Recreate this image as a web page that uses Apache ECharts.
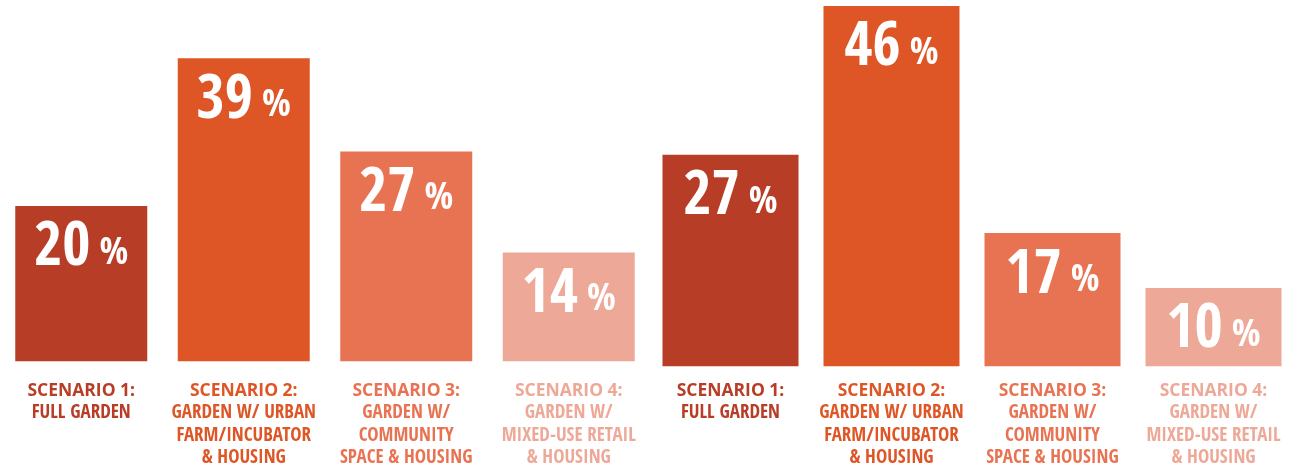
<!DOCTYPE html>
<html>
<head>
<meta charset="utf-8">
<script src="https://cdn.jsdelivr.net/npm/echarts@6/dist/echarts.min.js"></script>
<style>
  html, body { margin: 0; padding: 0; background: #fff; }
  #chart { width: 1298px; height: 468px; }
</style>
</head>
<body>
<div id="chart"></div>
<script>
var scenarioTitles = ['SCENARIO 1:', 'SCENARIO 2:', 'SCENARIO 3:', 'SCENARIO 4:'];
var scenarioNotes = [
  ['FULL GARDEN'],
  ['GARDEN W/ URBAN', 'FARM/INCUBATOR', '& HOUSING'],
  ['GARDEN W/', 'COMMUNITY', 'SPACE & HOUSING'],
  ['GARDEN W/', 'MIXED-USE RETAIL', '& HOUSING']
];
var leftValues = [20, 39, 27, 14];
var rightValues = [27, 46, 17, 10];
var barColors = ['#B83D26', '#DE5626', '#E87352', '#EEA897'];

var condensed = "'Open Sans Condensed', 'Roboto Condensed', 'DejaVu Sans Condensed', sans-serif";
var plain = "'Open Sans', 'Liberation Sans', sans-serif";

var categories = scenarioTitles.map(function (t, i) { return String(i); });

// rich styles for the category labels, one pair per colour
var axisRich = {};
barColors.forEach(function (c, i) {
  axisRich['h' + i] = { fontFamily: plain, fontWeight: 'bold', fontSize: 17.5, lineHeight: 22, color: c };
  axisRich['s' + i] = { fontFamily: condensed, fontWeight: 'bold', fontSize: 19, lineHeight: 22.5, color: c };
});

function axisFormatter(val, idx) {
  var lines = ['{h' + idx + '|' + scenarioTitles[idx] + '}'];
  scenarioNotes[idx].forEach(function (s) { lines.push('{s' + idx + '|' + s + '}'); });
  return lines.join('\n');
}

function makeXAxis(gridIndex, margin) {
  return {
    type: 'category',
    gridIndex: gridIndex,
    data: categories,
    axisLine: { show: false },
    axisTick: { show: false },
    axisLabel: { margin: margin, interval: 0, formatter: axisFormatter, rich: axisRich }
  };
}

function makeYAxis(gridIndex) {
  return {
    type: 'value',
    gridIndex: gridIndex,
    min: 0,
    max: 46,
    show: false,
    splitLine: { show: false }
  };
}

var barLabel = {
  show: true,
  position: 'insideTop',
  distance: 12,
  formatter: '{n|{c}}{p|%}',
  rich: {
    n: { fontFamily: condensed, fontWeight: 'bold', fontSize: 61, lineHeight: 62, color: '#fff', verticalAlign: 'bottom' },
    p: { fontFamily: condensed, fontWeight: 'bold', fontSize: 38, lineHeight: 62, color: '#fff', verticalAlign: 'bottom', padding: [0, 0, 7, 9] }
  }
};

var chart = echarts.init(document.getElementById('chart'));
chart.setOption({
  animation: false,
  grid: [
    { left: 0, width: 650, top: 4, bottom: 104.5 },
    { left: 650, width: 644, top: 6, bottom: 101 }
  ],
  xAxis: [makeXAxis(0, 19), makeXAxis(1, 14)],
  yAxis: [makeYAxis(0), makeYAxis(1)],
  series: [
    {
      type: 'bar',
      xAxisIndex: 0,
      yAxisIndex: 0,
      data: leftValues,
      barWidth: 132,
      itemStyle: { color: function (p) { return barColors[p.dataIndex]; } },
      label: barLabel
    },
    {
      type: 'bar',
      xAxisIndex: 1,
      yAxisIndex: 1,
      data: rightValues,
      barWidth: 136,
      itemStyle: { color: function (p) { return barColors[p.dataIndex]; } },
      label: barLabel
    }
  ]
});
</script>
</body>
</html>
